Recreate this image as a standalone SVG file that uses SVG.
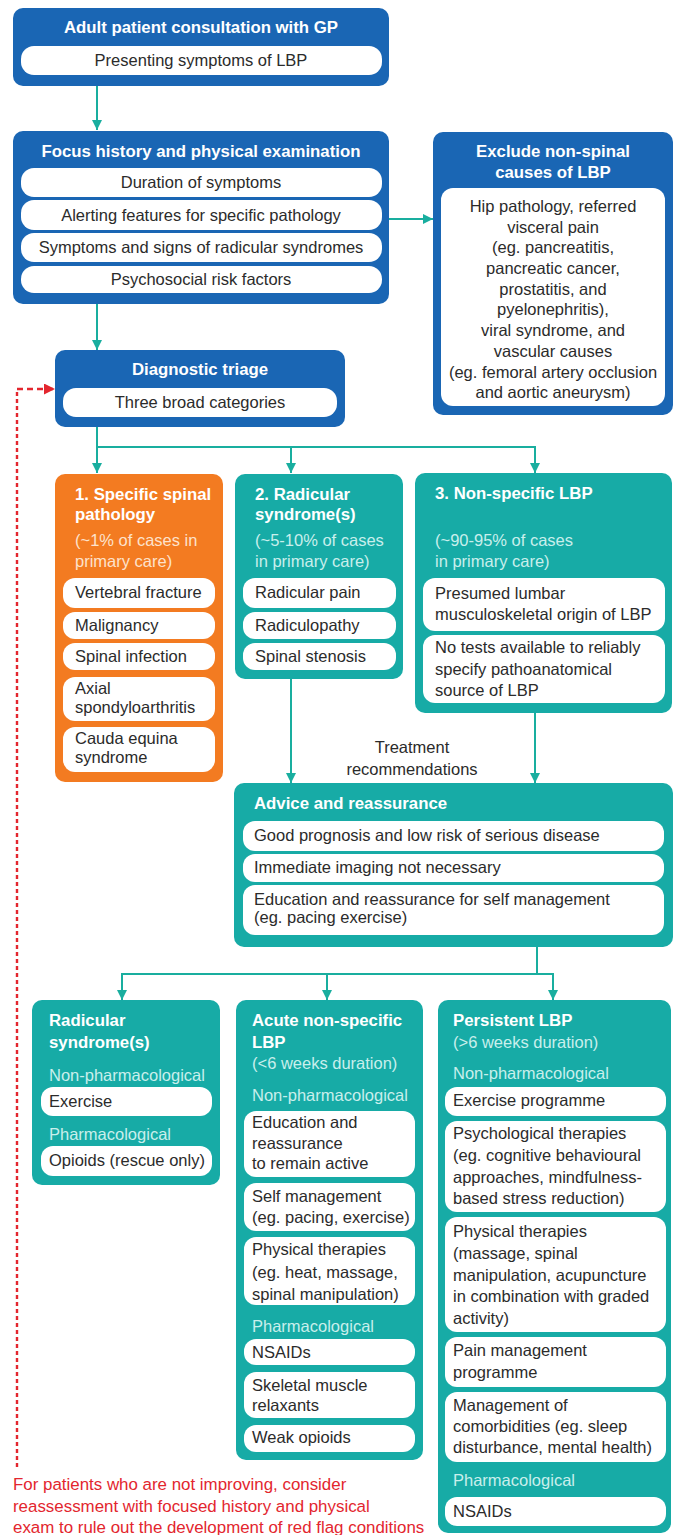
<svg xmlns="http://www.w3.org/2000/svg" width="675" height="1535" viewBox="0 0 675 1535">
<style>
text{font-family:"Liberation Sans",Arial,sans-serif;font-size:16.5px;fill:#2b2b2b}
.h{font-weight:bold;fill:#fff;font-size:16.8px}
.c{text-anchor:middle}
.lt{fill:#c9efec}
.lo{fill:#fde2cc}
.red{fill:#e3262e;font-size:16.9px}
.blue{fill:#1a66b4}
.teal{fill:#17aba6}
.orange{fill:#f37b21}
.pill{fill:#fff}
.conn{stroke:#19ae9f;stroke-width:2;fill:none}
.dash{stroke:#e3262e;stroke-width:2.4;fill:none}
</style>
<defs>
<marker id="ah" viewBox="0 0 10 10" refX="10" refY="5" markerWidth="11" markerHeight="10" markerUnits="userSpaceOnUse" orient="auto"><path d="M0,0 L10,5 L0,10 z" fill="#19ae9f"/></marker>
<marker id="ahr" viewBox="0 0 10 10" refX="10" refY="5" markerWidth="12" markerHeight="11" markerUnits="userSpaceOnUse" orient="auto"><path d="M0,0 L10,5 L0,10 z" fill="#e3262e"/></marker>
</defs>

<g id="connectors">
<line class="conn" x1="97" y1="86" x2="97" y2="130" marker-end="url(#ah)"/>
<line class="conn" x1="389" y1="219" x2="433" y2="219" marker-end="url(#ah)"/>
<line class="conn" x1="97" y1="304" x2="97" y2="350" marker-end="url(#ah)"/>
<line class="conn" x1="97" y1="427" x2="97" y2="473" marker-end="url(#ah)"/>
<polyline class="conn" points="97,447 535,447"/>
<line class="conn" x1="291" y1="447" x2="291" y2="473" marker-end="url(#ah)"/>
<line class="conn" x1="535" y1="446" x2="535" y2="473" marker-end="url(#ah)"/>
<line class="conn" x1="291" y1="679" x2="291" y2="783" marker-end="url(#ah)"/>
<line class="conn" x1="535" y1="713" x2="535" y2="783" marker-end="url(#ah)"/>
<line class="conn" x1="537" y1="947" x2="537" y2="974"/>
<polyline class="conn" points="122,974 553,974"/>
<line class="conn" x1="122" y1="973" x2="122" y2="1000" marker-end="url(#ah)"/>
<line class="conn" x1="327" y1="974" x2="327" y2="1000" marker-end="url(#ah)"/>
<line class="conn" x1="553" y1="973" x2="553" y2="1000" marker-end="url(#ah)"/>
<path class="dash" d="M17,1467 L17,389" stroke-dasharray="4 3"/>
<path class="dash" d="M17,389 L55,389" stroke-dasharray="6 4" marker-end="url(#ahr)"/>
</g>

<g id="consultation">
<rect class="blue" x="13" y="8" width="376" height="78" rx="10"/>
<text class="h c" x="201" y="33">Adult patient consultation with GP</text>
<rect class="pill" x="21" y="46" width="361" height="29" rx="13"/>
<text class="c" x="201" y="66">Presenting symptoms of LBP</text>
</g>

<g id="focus-history">
<rect class="blue" x="13" y="131" width="376" height="173" rx="10"/>
<text class="h c" x="201" y="157">Focus history and physical examination</text>
<rect class="pill" x="21" y="168" width="361" height="29" rx="13"/>
<text class="c" x="201" y="188">Duration of symptoms</text>
<rect class="pill" x="21" y="200" width="361" height="30" rx="13"/>
<text class="c" x="201" y="221">Alerting features for specific pathology</text>
<rect class="pill" x="21" y="233" width="361" height="29" rx="13"/>
<text class="c" x="201" y="253">Symptoms and signs of radicular syndromes</text>
<rect class="pill" x="21" y="266" width="361" height="27" rx="13"/>
<text class="c" x="201" y="285">Psychosocial risk factors</text>
</g>

<g id="exclude">
<rect class="blue" x="433" y="132" width="240" height="283" rx="10"/>
<text class="h c" x="553" y="157">Exclude non-spinal</text>
<text class="h c" x="553" y="178">causes of LBP</text>
<rect class="pill" x="441" y="188" width="224" height="218" rx="12"/>
<text class="c" x="553" y="212">Hip pathology, referred</text>
<text class="c" x="553" y="233">visceral pain</text>
<text class="c" x="553" y="253">(eg. pancreatitis,</text>
<text class="c" x="553" y="274">pancreatic cancer,</text>
<text class="c" x="553" y="295">prostatitis, and</text>
<text class="c" x="553" y="315">pyelonephritis),</text>
<text class="c" x="553" y="336">viral syndrome, and</text>
<text class="c" x="553" y="357">vascular causes</text>
<text class="c" x="553" y="378">(eg. femoral artery occlusion</text>
<text class="c" x="553" y="398">and aortic aneurysm)</text>
</g>

<g id="triage">
<rect class="blue" x="55" y="350" width="290" height="77" rx="10"/>
<text class="h c" x="200" y="375">Diagnostic triage</text>
<rect class="pill" x="63" y="388" width="274" height="29" rx="13"/>
<text class="c" x="200" y="408">Three broad categories</text>
</g>

<g id="specific-spinal">
<rect class="orange" x="55" y="474" width="168" height="308" rx="10"/>
<text class="h" x="75" y="500">1. Specific spinal</text>
<text class="h" x="75" y="520">pathology</text>
<text class="lo" x="75" y="546">(~1% of cases in</text>
<text class="lo" x="75" y="567">primary care)</text>
<rect class="pill" x="63" y="578" width="152" height="30" rx="12"/>
<text x="75" y="598">Vertebral fracture</text>
<rect class="pill" x="63" y="612" width="152" height="27" rx="12"/>
<text x="75" y="631">Malignancy</text>
<rect class="pill" x="63" y="643" width="152" height="27" rx="12"/>
<text x="75" y="662">Spinal infection</text>
<rect class="pill" x="63" y="677" width="152" height="44" rx="12"/>
<text x="75" y="694">Axial</text>
<text x="75" y="713">spondyloarthritis</text>
<rect class="pill" x="63" y="727" width="152" height="45" rx="12"/>
<text x="75" y="744">Cauda equina</text>
<text x="75" y="763">syndrome</text>
</g>

<g id="radicular">
<rect class="teal" x="235" y="474" width="168" height="205" rx="10"/>
<text class="h" x="255" y="500">2. Radicular</text>
<text class="h" x="255" y="520">syndrome(s)</text>
<text class="lt" x="255" y="546">(~5-10% of cases</text>
<text class="lt" x="255" y="567">in primary care)</text>
<rect class="pill" x="243" y="578" width="153" height="30" rx="12"/>
<text x="255" y="598">Radicular pain</text>
<rect class="pill" x="243" y="612" width="153" height="27" rx="12"/>
<text x="255" y="631">Radiculopathy</text>
<rect class="pill" x="243" y="643" width="153" height="27" rx="12"/>
<text x="255" y="662">Spinal stenosis</text>
</g>

<g id="non-specific">
<rect class="teal" x="415" y="473" width="257" height="240" rx="10"/>
<text class="h" x="435" y="499">3. Non-specific LBP</text>
<text class="lt" x="435" y="546">(~90-95% of cases</text>
<text class="lt" x="435" y="567">in primary care)</text>
<rect class="pill" x="423" y="578" width="242" height="53" rx="12"/>
<text x="435" y="599">Presumed lumbar</text>
<text x="435" y="620">musculoskeletal origin of LBP</text>
<rect class="pill" x="423" y="635" width="242" height="68" rx="12"/>
<text x="435" y="653">No tests available to reliably</text>
<text x="435" y="675">specify pathoanatomical</text>
<text x="435" y="696">source of LBP</text>
</g>

<g id="treatment-label">
<text class="c" x="412" y="753">Treatment</text>
<text class="c" x="412" y="775">recommendations</text>
</g>

<g id="advice">
<rect class="teal" x="234" y="783" width="439" height="164" rx="10"/>
<text class="h" x="254" y="809">Advice and reassurance</text>
<rect class="pill" x="243" y="821" width="421" height="30" rx="12"/>
<text x="254" y="841">Good prognosis and low risk of serious disease</text>
<rect class="pill" x="243" y="854" width="421" height="28" rx="12"/>
<text x="254" y="873">Immediate imaging not necessary</text>
<rect class="pill" x="243" y="885" width="421" height="50" rx="12"/>
<text x="254" y="905">Education and reassurance for self management</text>
<text x="254" y="923">(eg. pacing exercise)</text>
</g>

<g id="radicular-treatment">
<rect class="teal" x="32" y="1000" width="188" height="185" rx="10"/>
<text class="h" x="49" y="1026">Radicular</text>
<text class="h" x="49" y="1048">syndrome(s)</text>
<text class="lt" x="49" y="1081">Non-pharmacological</text>
<rect class="pill" x="41" y="1087" width="171" height="29" rx="12"/>
<text x="49" y="1107">Exercise</text>
<text class="lt" x="49" y="1140">Pharmacological</text>
<rect class="pill" x="41" y="1146" width="171" height="30" rx="12"/>
<text x="49" y="1166">Opioids (rescue only)</text>
</g>

<g id="acute">
<rect class="teal" x="236" y="1000" width="187" height="460" rx="10"/>
<text class="h" x="252" y="1026">Acute non-specific</text>
<text class="h" x="252" y="1048">LBP</text>
<text class="lt" x="252" y="1069">(&lt;6 weeks duration)</text>
<text class="lt" x="252" y="1101">Non-pharmacological</text>
<rect class="pill" x="244" y="1111" width="171" height="66" rx="12"/>
<text x="252" y="1128">Education and</text>
<text x="252" y="1149">reassurance</text>
<text x="252" y="1169">to remain active</text>
<rect class="pill" x="244" y="1183" width="171" height="48" rx="12"/>
<text x="252" y="1202">Self management</text>
<text x="252" y="1223">(eg. pacing, exercise)</text>
<rect class="pill" x="244" y="1237" width="171" height="68" rx="12"/>
<text x="252" y="1255">Physical therapies</text>
<text x="252" y="1278">(eg. heat, massage,</text>
<text x="252" y="1300">spinal manipulation)</text>
<text class="lt" x="252" y="1332">Pharmacological</text>
<rect class="pill" x="244" y="1339" width="171" height="26" rx="12"/>
<text x="252" y="1358">NSAIDs</text>
<rect class="pill" x="244" y="1372" width="171" height="46" rx="12"/>
<text x="252" y="1391">Skeletal muscle</text>
<text x="252" y="1411">relaxants</text>
<rect class="pill" x="244" y="1425" width="171" height="27" rx="12"/>
<text x="252" y="1443">Weak opioids</text>
</g>

<g id="persistent">
<rect class="teal" x="438" y="1000" width="233" height="533" rx="10"/>
<text class="h" x="453" y="1026">Persistent LBP</text>
<text class="lt" x="453" y="1048">(&gt;6 weeks duration)</text>
<text class="lt" x="453" y="1079">Non-pharmacological</text>
<rect class="pill" x="445" y="1087" width="221" height="29" rx="12"/>
<text x="453" y="1106">Exercise programme</text>
<rect class="pill" x="445" y="1121" width="221" height="91" rx="12"/>
<text x="453" y="1139">Psychological therapies</text>
<text x="453" y="1161">(eg. cognitive behavioural</text>
<text x="453" y="1183">approaches, mindfulness-</text>
<text x="453" y="1204">based stress reduction)</text>
<rect class="pill" x="445" y="1217" width="221" height="115" rx="12"/>
<text x="453" y="1237">Physical therapies</text>
<text x="453" y="1259">(massage, spinal</text>
<text x="453" y="1281">manipulation, acupuncture</text>
<text x="453" y="1302">in combination with graded</text>
<text x="453" y="1324">activity)</text>
<rect class="pill" x="445" y="1337" width="221" height="50" rx="12"/>
<text x="453" y="1356">Pain management</text>
<text x="453" y="1378">programme</text>
<rect class="pill" x="445" y="1392" width="221" height="70" rx="12"/>
<text x="453" y="1411">Management of</text>
<text x="453" y="1432">comorbidities (eg. sleep</text>
<text x="453" y="1453">disturbance, mental health)</text>
<text class="lt" x="453" y="1486">Pharmacological</text>
<rect class="pill" x="445" y="1497" width="221" height="29" rx="12"/>
<text x="453" y="1517">NSAIDs</text>
</g>

<g id="red-note">
<text class="red" x="13" y="1490">For patients who are not improving, consider</text>
<text class="red" x="13" y="1512">reassessment with focused history and physical</text>
<text class="red" x="13" y="1533">exam to rule out the development of red flag conditions</text>
</g>
</svg>
